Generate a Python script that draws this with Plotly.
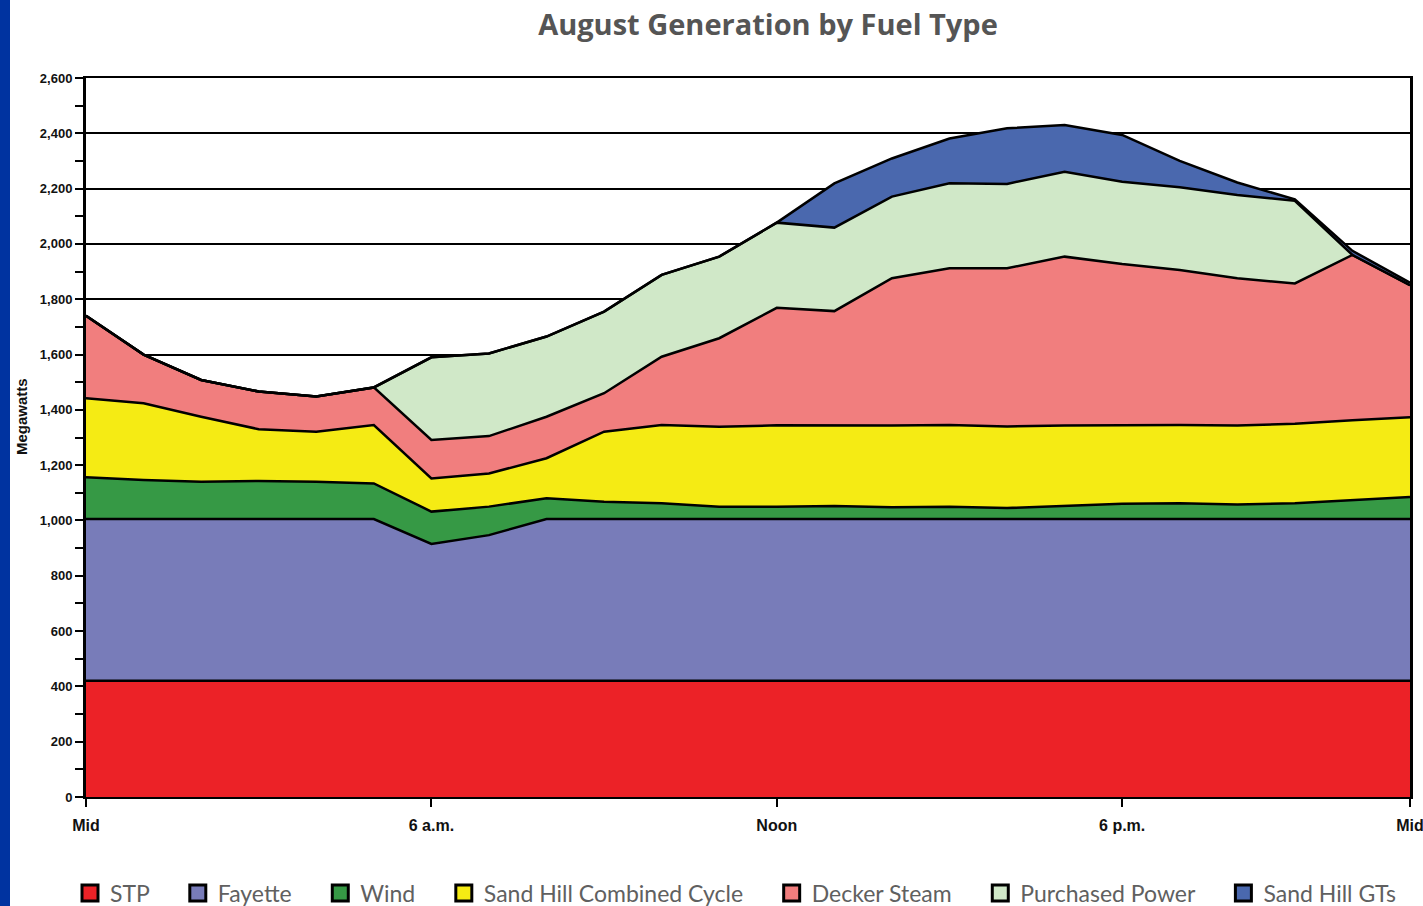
import plotly.graph_objects as go

hours = list(range(24))
tick_vals = [0, 6, 12, 18, 23]
tick_text = ["Mid", "6 a.m.", "Noon", "6 p.m.", "Mid"]

stp = [420] * 24
fayette = [585, 585, 585, 585, 585, 585, 495, 527, 585, 585, 585, 585,
           585, 585, 585, 585, 585, 585, 585, 585, 585, 585, 585, 585]
wind = [151, 141, 135, 138, 135, 129, 117, 103, 75, 63, 57, 45,
        45, 47, 43, 45, 40, 47, 55, 57, 53, 57, 69, 80]
sand_hill_cc = [286, 278, 235, 187, 181, 211, 120, 120, 145, 253, 283, 289,
                294, 291, 295, 295, 295, 291, 285, 283, 285, 288, 288, 288]
decker = [298, 176, 133, 136, 127, 136, 139, 135, 150, 139, 247, 320,
          425, 414, 533, 567, 572, 611, 582, 561, 533, 507, 598, 478]
purchased = [0, 0, 0, 0, 0, 0, 299, 299, 290, 295, 296, 295,
             308, 302, 295, 307, 305, 307, 298, 299, 301, 299, 0, 0]
sand_hill_gt = [0, 0, 0, 0, 0, 0, 0, 0, 0, 0, 0, 0,
                0, 160, 138, 162, 201, 169, 169, 95, 45, 5, 15, 9]

series = [
    ("STP", stp, "#EC2227"),
    ("Fayette", fayette, "#787CB9"),
    ("Wind", wind, "#369945"),
    ("Sand Hill Combined Cycle", sand_hill_cc, "#F5EB14"),
    ("Decker Steam", decker, "#F17E7E"),
    ("Purchased Power", purchased, "#D0E8C8"),
    ("Sand Hill GTs", sand_hill_gt, "#4A68AE"),
]

PAD = "\u00a0" * 4  # extra spacing after each legend label

fig = go.Figure()
for name, vals, color in series:
    fig.add_trace(go.Scatter(
        x=hours, y=vals, name=name, stackgroup="gen", mode="lines",
        line=dict(color="black", width=2.5), fillcolor=color,
        showlegend=False, hoverinfo="x+y+name",
    ))
for name, vals, color in series:
    fig.add_trace(go.Scatter(
        x=[None], y=[None], name=name + PAD, mode="markers",
        marker=dict(symbol="square", size=17, color=color,
                    line=dict(color="black", width=3)),
        showlegend=True,
    ))

W, H = 1423, 906
L, R, T, B = 86, 13, 78, 109
pw = W - L - R
ph = H - T - B

fig.update_layout(
    width=W, height=H, autosize=False,
    margin=dict(l=L, r=R, t=T, b=B, autoexpand=False),
    paper_bgcolor="white", plot_bgcolor="white",
    title=dict(text="<b>August Generation by Fuel Type</b>",
               font=dict(family="Open Sans", size=29, color="#555555"),
               x=768 / W, xanchor="center", y=1 - 25 / H, yanchor="middle"),
    showlegend=True,
    legend=dict(orientation="h", traceorder="normal",
                x=(70 - L) / pw, xanchor="left",
                y=(797 - 893) / ph, yanchor="middle",
                font=dict(family="Lato", size=23, color="#606060"),
                itemsizing="trace", bgcolor="rgba(0,0,0,0)"),
    xaxis=dict(range=[0, 23], tickvals=tick_vals, ticktext=tick_text,
               showgrid=False, zeroline=False, automargin=False,
               ticklabeloverflow="allow",
               showline=True, linecolor="black", linewidth=2, mirror=True,
               ticks="outside", ticklen=8, tickwidth=2, tickcolor="black",
               ticklabelstandoff=5,
               tickfont=dict(family="Liberation Sans", size=16, color="#111111", weight="bold")),
    yaxis=dict(range=[0, 2600], dtick=200, tickformat=",d", automargin=False,
               ticklabeloverflow="allow",
               showgrid=True, gridcolor="black", gridwidth=2, zeroline=False,
               showline=True, linecolor="black", linewidth=3, mirror=True,
               ticks="outside", ticklen=8, tickwidth=2, tickcolor="black",
               minor=dict(dtick=100, ticks="outside", ticklen=8, tickwidth=2,
                          tickcolor="black", showgrid=False),
               tickfont=dict(family="Liberation Sans", size=13, color="#111111", weight="bold")),
    annotations=[dict(text="<b>Megawatts</b>", textangle=-90, xref="paper", yref="paper",
                      x=(21 - L) / pw, y=(797 - 417) / ph, showarrow=False,
                      xanchor="center", yanchor="middle",
                      font=dict(family="Liberation Sans", size=15, color="#111111"))],
    shapes=[dict(type="rect", xref="paper", yref="paper",
                 x0=-L / pw, x1=(10 - L) / pw, y0=-B / ph, y1=1 + T / ph,
                 fillcolor="#0033A0", line=dict(width=0), layer="above")],
)

fig.write_html("out.html",
               config={"displayModeBar": False, "responsive": False},
               post_script="document.body.style.margin='0';document.body.style.overflow='hidden';")
